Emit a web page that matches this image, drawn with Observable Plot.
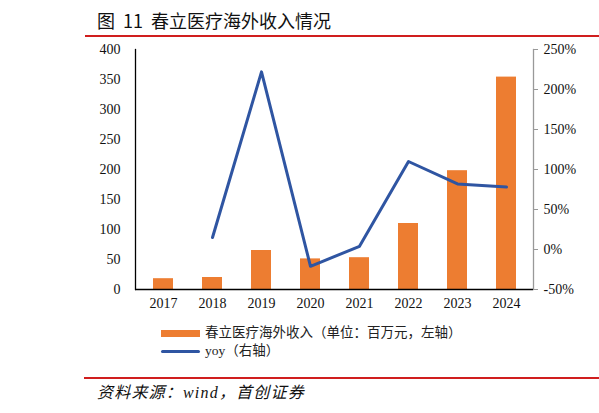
<!DOCTYPE html>
<html>
<head>
<meta charset="utf-8">
<script src="https://cdn.jsdelivr.net/npm/d3@7"></script>
<script src="https://cdn.jsdelivr.net/npm/@observablehq/plot@0.6"></script>
<style>
  html, body { margin: 0; padding: 0; background: #fff; }
  #page { position: relative; width: 599px; height: 413px; overflow: hidden; font-family: "Noto Sans CJK SC", sans-serif; }
  #title { position: absolute; left: 97px; top: 7px; font-size: 18px; line-height: 26px; color: #111; white-space: pre; }
  .redline { position: absolute; left: 85px; right: 0; height: 2px; background: #D01E1E; }
  #chart { position: absolute; left: 0; top: 30px; }
  .leg { position: absolute; left: 161px; font-family: "Liberation Serif", "Noto Sans CJK SC", serif; font-size: 13.5px; line-height: 16px; color: #222; white-space: nowrap; display: flex; align-items: center; }
  .sw { display: inline-block; width: 39px; margin-right: 5px; }
  #source { position: absolute; left: 97px; top: 383px; font-family: "Liberation Serif", "Noto Sans CJK SC", serif; font-size: 16px; line-height: 20px; font-style: italic; letter-spacing: 1.2px; color: #111; white-space: pre; }
</style>
</head>
<body>
<div id="page">
  <div id="title"></div>
  <div class="redline" style="top:35px"></div>
  <div id="chart"></div>
  <div id="legend"></div>
  <div class="redline" style="top:377px; left:84px"></div>
  <div id="source"></div>
</div>
<script>
const titleText = "图  11  春立医疗海外收入情况";
const sourceText = "资料来源：wind，首创证券";
const years = ["2017", "2018", "2019", "2020", "2021", "2022", "2023", "2024"];
const revenue = [18, 20, 65, 51, 53, 110, 198, 354];
const yoyYears = ["2018", "2019", "2020", "2021", "2022", "2023", "2024"];
const yoy = [15, 222, -21, 4, 110, 82, 78];
const leftTicks = [0, 50, 100, 150, 200, 250, 300, 350, 400];
const rightTicks = [-50, 0, 50, 100, 150, 200, 250];
const seriesNames = ["春立医疗海外收入（单位：百万元，左轴）", "yoy（右轴）"];
const seriesColors = ["#ED7D31", "#2F55A2"];

document.getElementById("title").textContent = titleText;
document.getElementById("source").textContent = sourceText;

// map right axis (%) onto left axis domain
const rMin = -50, rMax = 250, lMin = 0, lMax = 400;
const toLeft = v => lMin + (v - rMin) * (lMax - lMin) / (rMax - rMin);
const fromLeft = d => Math.round(rMin + (d - lMin) * (rMax - rMin) / (lMax - lMin));

const barData = years.map((y, i) => ({year: y, value: revenue[i]}));
const lineData = yoyYears.map((y, i) => ({year: y, value: yoy[i]}));

const chart = Plot.plot({
  width: 599,
  height: 290,
  marginTop: 19,
  marginBottom: 31,
  marginLeft: 135,
  marginRight: 66,
  style: {fontFamily: "'Liberation Serif', serif", fontSize: "14px", color: "#111", background: "transparent"},
  x: {type: "band", domain: years, paddingInner: 0.6, paddingOuter: 0.3, label: null},
  y: {domain: [lMin, lMax], label: null},
  marks: [
    Plot.barY(barData, {x: "year", y: "value", fill: seriesColors[0]}),
    Plot.frame({anchor: "left", stroke: "#000", strokeWidth: 1.3}),
    Plot.frame({anchor: "right", stroke: "#999", strokeWidth: 1.3}),
    Plot.ruleY([0], {stroke: "#000", strokeWidth: 1.6}),
    Plot.lineY(lineData, {x: "year", y: d => toLeft(d.value), stroke: seriesColors[1], strokeWidth: 3}),
    Plot.axisY(leftTicks, {anchor: "left", tickSize: 0, tickPadding: 15, label: null, fill: "#111"}),
    Plot.axisY(rightTicks.map(toLeft), {anchor: "right", tickSize: 4, tickPadding: 6, stroke: "#999", label: null, fill: "#111", tickFormat: d => fromLeft(d) + "%"}),
    Plot.axisX({tickSize: 0, tickPadding: 9, label: null, fill: "#111"})
  ]
});
document.getElementById("chart").appendChild(chart);

// legend
const legend = document.getElementById("legend");
const legTops = [325, 343];
const swH = [7, 3];
seriesNames.forEach((name, i) => {
  const row = document.createElement("div");
  row.className = "leg";
  row.style.top = legTops[i] + "px";
  const sw = document.createElement("span");
  sw.className = "sw";
  sw.style.height = swH[i] + "px";
  sw.style.background = seriesColors[i];
  if (i === 1) sw.style.borderRadius = "2px";
  const t = document.createElement("span");
  t.textContent = name;
  row.appendChild(sw);
  row.appendChild(t);
  legend.appendChild(row);
});
</script>
</body>
</html>
